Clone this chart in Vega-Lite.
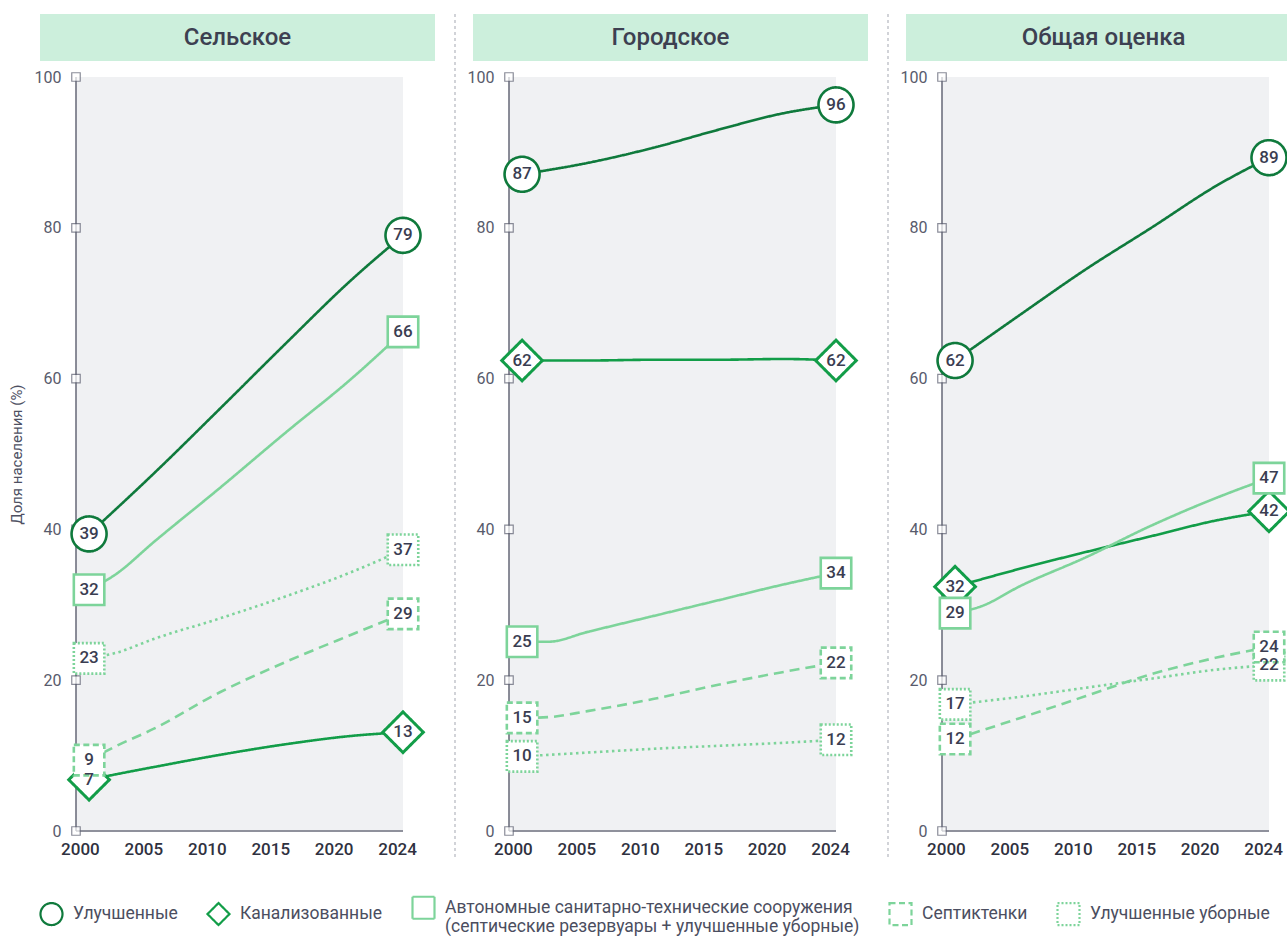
{
  "$schema": "https://vega.github.io/schema/vega-lite/v6.json",
  "padding": {"left": 9, "top": 13, "right": 0, "bottom": 0},
  "background": "white",
  "datasets": {
    "d": [
      {"panel": "Сельское", "type": "Улучшенные", "year": 2000, "value": 39.4},
      {"panel": "Сельское", "type": "Улучшенные", "year": 2005, "value": 47.5},
      {"panel": "Сельское", "type": "Улучшенные", "year": 2010, "value": 56.0},
      {"panel": "Сельское", "type": "Улучшенные", "year": 2015, "value": 64.6},
      {"panel": "Сельское", "type": "Улучшенные", "year": 2020, "value": 73.0},
      {"panel": "Сельское", "type": "Улучшенные", "year": 2024, "value": 79.0},
      {"panel": "Сельское", "type": "Канализованные", "year": 2000, "value": 6.8},
      {"panel": "Сельское", "type": "Канализованные", "year": 2002, "value": 7.5},
      {"panel": "Сельское", "type": "Канализованные", "year": 2005, "value": 8.5},
      {"panel": "Сельское", "type": "Канализованные", "year": 2010, "value": 10.1},
      {"panel": "Сельское", "type": "Канализованные", "year": 2015, "value": 11.5},
      {"panel": "Сельское", "type": "Канализованные", "year": 2020, "value": 12.6},
      {"panel": "Сельское", "type": "Канализованные", "year": 2024, "value": 13.1},
      {"panel": "Сельское", "type": "Автономные санитарно-технические сооружения (септические резервуары + улучшенные уборные)", "year": 2000, "value": 32.0},
      {"panel": "Сельское", "type": "Автономные санитарно-технические сооружения (септические резервуары + улучшенные уборные)", "year": 2002, "value": 34.0},
      {"panel": "Сельское", "type": "Автономные санитарно-технические сооружения (септические резервуары + улучшенные уборные)", "year": 2005, "value": 38.4},
      {"panel": "Сельское", "type": "Автономные санитарно-технические сооружения (септические резервуары + улучшенные уборные)", "year": 2010, "value": 45.5},
      {"panel": "Сельское", "type": "Автономные санитарно-технические сооружения (септические резервуары + улучшенные уборные)", "year": 2015, "value": 52.8},
      {"panel": "Сельское", "type": "Автономные санитарно-технические сооружения (септические резервуары + улучшенные уборные)", "year": 2020, "value": 59.9},
      {"panel": "Сельское", "type": "Автономные санитарно-технические сооружения (септические резервуары + улучшенные уборные)", "year": 2024, "value": 66.2},
      {"panel": "Сельское", "type": "Улучшенные уборные", "year": 2000, "value": 22.9},
      {"panel": "Сельское", "type": "Улучшенные уборные", "year": 2002, "value": 23.6},
      {"panel": "Сельское", "type": "Улучшенные уборные", "year": 2005, "value": 25.5},
      {"panel": "Сельское", "type": "Улучшенные уборные", "year": 2010, "value": 28.2},
      {"panel": "Сельское", "type": "Улучшенные уборные", "year": 2015, "value": 31.1},
      {"panel": "Сельское", "type": "Улучшенные уборные", "year": 2020, "value": 34.3},
      {"panel": "Сельское", "type": "Улучшенные уборные", "year": 2024, "value": 37.3},
      {"panel": "Сельское", "type": "Септиктенки", "year": 2000, "value": 9.4},
      {"panel": "Сельское", "type": "Септиктенки", "year": 2002, "value": 11.2},
      {"panel": "Сельское", "type": "Септиктенки", "year": 2005, "value": 13.6},
      {"panel": "Сельское", "type": "Септиктенки", "year": 2010, "value": 18.4},
      {"panel": "Сельское", "type": "Септиктенки", "year": 2015, "value": 22.4},
      {"panel": "Сельское", "type": "Септиктенки", "year": 2020, "value": 26.0},
      {"panel": "Сельское", "type": "Септиктенки", "year": 2024, "value": 28.8},

      {"panel": "Городское", "type": "Улучшенные", "year": 2000, "value": 87.1},
      {"panel": "Городское", "type": "Улучшенные", "year": 2005, "value": 88.6},
      {"panel": "Городское", "type": "Улучшенные", "year": 2010, "value": 90.6},
      {"panel": "Городское", "type": "Улучшенные", "year": 2015, "value": 93.0},
      {"panel": "Городское", "type": "Улучшенные", "year": 2020, "value": 95.2},
      {"panel": "Городское", "type": "Улучшенные", "year": 2024, "value": 96.3},
      {"panel": "Городское", "type": "Канализованные", "year": 2000, "value": 62.4},
      {"panel": "Городское", "type": "Канализованные", "year": 2005, "value": 62.4},
      {"panel": "Городское", "type": "Канализованные", "year": 2010, "value": 62.5},
      {"panel": "Городское", "type": "Канализованные", "year": 2015, "value": 62.5},
      {"panel": "Городское", "type": "Канализованные", "year": 2020, "value": 62.6},
      {"panel": "Городское", "type": "Канализованные", "year": 2024, "value": 62.4},
      {"panel": "Городское", "type": "Автономные санитарно-технические сооружения (септические резервуары + улучшенные уборные)", "year": 2000, "value": 25.1},
      {"panel": "Городское", "type": "Автономные санитарно-технические сооружения (септические резервуары + улучшенные уборные)", "year": 2002, "value": 25.1},
      {"panel": "Городское", "type": "Автономные санитарно-технические сооружения (септические резервуары + улучшенные уборные)", "year": 2005, "value": 26.4},
      {"panel": "Городское", "type": "Автономные санитарно-технические сооружения (септические резервуары + улучшенные уборные)", "year": 2010, "value": 28.5},
      {"panel": "Городское", "type": "Автономные санитарно-технические сооружения (септические резервуары + улучшенные уборные)", "year": 2015, "value": 30.6},
      {"panel": "Городское", "type": "Автономные санитарно-технические сооружения (септические резервуары + улучшенные уборные)", "year": 2020, "value": 32.7},
      {"panel": "Городское", "type": "Автономные санитарно-технические сооружения (септические резервуары + улучшенные уборные)", "year": 2024, "value": 34.2},
      {"panel": "Городское", "type": "Улучшенные уборные", "year": 2000, "value": 9.9},
      {"panel": "Городское", "type": "Улучшенные уборные", "year": 2005, "value": 10.4},
      {"panel": "Городское", "type": "Улучшенные уборные", "year": 2010, "value": 10.9},
      {"panel": "Городское", "type": "Улучшенные уборные", "year": 2015, "value": 11.3},
      {"panel": "Городское", "type": "Улучшенные уборные", "year": 2020, "value": 11.7},
      {"panel": "Городское", "type": "Улучшенные уборные", "year": 2024, "value": 12.1},
      {"panel": "Городское", "type": "Септиктенки", "year": 2000, "value": 15.0},
      {"panel": "Городское", "type": "Септиктенки", "year": 2002, "value": 15.1},
      {"panel": "Городское", "type": "Септиктенки", "year": 2005, "value": 15.9},
      {"panel": "Городское", "type": "Септиктенки", "year": 2010, "value": 17.5},
      {"panel": "Городское", "type": "Септиктенки", "year": 2015, "value": 19.4},
      {"panel": "Городское", "type": "Септиктенки", "year": 2020, "value": 21.1},
      {"panel": "Городское", "type": "Септиктенки", "year": 2024, "value": 22.3},

      {"panel": "Общая оценка", "type": "Улучшенные", "year": 2000, "value": 62.4},
      {"panel": "Общая оценка", "type": "Улучшенные", "year": 2005, "value": 68.5},
      {"panel": "Общая оценка", "type": "Улучшенные", "year": 2010, "value": 74.5},
      {"panel": "Общая оценка", "type": "Улучшенные", "year": 2015, "value": 80.0},
      {"panel": "Общая оценка", "type": "Улучшенные", "year": 2020, "value": 85.6},
      {"panel": "Общая оценка", "type": "Улучшенные", "year": 2024, "value": 89.3},
      {"panel": "Общая оценка", "type": "Канализованные", "year": 2000, "value": 32.4},
      {"panel": "Общая оценка", "type": "Канализованные", "year": 2005, "value": 34.8},
      {"panel": "Общая оценка", "type": "Канализованные", "year": 2010, "value": 37.0},
      {"panel": "Общая оценка", "type": "Канализованные", "year": 2015, "value": 39.1},
      {"panel": "Общая оценка", "type": "Канализованные", "year": 2020, "value": 41.2},
      {"panel": "Общая оценка", "type": "Канализованные", "year": 2024, "value": 42.4},
      {"panel": "Общая оценка", "type": "Автономные санитарно-технические сооружения (септические резервуары + улучшенные уборные)", "year": 2000, "value": 28.9},
      {"panel": "Общая оценка", "type": "Автономные санитарно-технические сооружения (септические резервуары + улучшенные уборные)", "year": 2002, "value": 29.8},
      {"panel": "Общая оценка", "type": "Автономные санитарно-технические сооружения (септические резервуары + улучшенные уборные)", "year": 2005, "value": 32.5},
      {"panel": "Общая оценка", "type": "Автономные санитарно-технические сооружения (септические резервуары + улучшенные уборные)", "year": 2010, "value": 36.3},
      {"panel": "Общая оценка", "type": "Автономные санитарно-технические сооружения (септические резервуары + улучшенные уборные)", "year": 2015, "value": 40.5},
      {"panel": "Общая оценка", "type": "Автономные санитарно-технические сооружения (септические резервуары + улучшенные уборные)", "year": 2020, "value": 44.2},
      {"panel": "Общая оценка", "type": "Автономные санитарно-технические сооружения (септические резервуары + улучшенные уборные)", "year": 2024, "value": 46.8},
      {"panel": "Общая оценка", "type": "Улучшенные уборные", "year": 2000, "value": 16.8},
      {"panel": "Общая оценка", "type": "Улучшенные уборные", "year": 2005, "value": 17.8},
      {"panel": "Общая оценка", "type": "Улучшенные уборные", "year": 2010, "value": 19.0},
      {"panel": "Общая оценка", "type": "Улучшенные уборные", "year": 2015, "value": 20.2},
      {"panel": "Общая оценка", "type": "Улучшенные уборные", "year": 2020, "value": 21.4},
      {"panel": "Общая оценка", "type": "Улучшенные уборные", "year": 2024, "value": 22.0},
      {"panel": "Общая оценка", "type": "Септиктенки", "year": 2000, "value": 12.2},
      {"panel": "Общая оценка", "type": "Септиктенки", "year": 2005, "value": 15.0},
      {"panel": "Общая оценка", "type": "Септиктенки", "year": 2010, "value": 17.9},
      {"panel": "Общая оценка", "type": "Септиктенки", "year": 2015, "value": 20.8},
      {"panel": "Общая оценка", "type": "Септиктенки", "year": 2020, "value": 23.0},
      {"panel": "Общая оценка", "type": "Септиктенки", "year": 2024, "value": 24.4}
    ]
  },
  "spacing": 11,
  "hconcat": [
    {
      "vconcat": [
        {
          "width": 395, "height": 47,
          "view": {"fill": "#ccefdc", "stroke": null},
          "data": {"values": [{"t": "Сельское"}]},
          "mark": {"type": "text", "fontSize": 24, "fontWeight": 500, "color": "#3d4051"},
          "encoding": {"text": {"field": "t"}}
        },
        {
          "width": 363, "height": 754,
          "layer": [
            {"data": {"values": [{}]}, "mark": {"type": "rect", "color": "#f0f1f3"},
             "encoding": {
               "x": {"datum": 1999, "type": "quantitative", "scale": {"domain": [1996.248, 2024], "nice": false, "zero": false}},
               "x2": {"datum": 2024},
               "y": {"datum": 0, "type": "quantitative", "scale": {"domain": [0, 100], "nice": false, "zero": false}},
               "y2": {"datum": 100}}},
            {"data": {"values": [{}]}, "mark": {"type": "rule", "color": "#8f919c", "strokeWidth": 2},
             "encoding": {
               "x": {"datum": 1999, "type": "quantitative", "scale": {"domain": [1996.248, 2024], "nice": false, "zero": false}},
               "x2": {"datum": 2024},
               "y": {"datum": 0, "type": "quantitative", "scale": {"domain": [0, 100], "nice": false, "zero": false}}}},
            {"data": {"values": [{}]}, "mark": {"type": "rule", "color": "#4f5263", "strokeWidth": 1.3},
             "encoding": {
               "x": {"datum": 1999, "type": "quantitative", "scale": {"domain": [1996.248, 2024], "nice": false, "zero": false}},
               "y": {"datum": 0, "type": "quantitative", "scale": {"domain": [0, 100], "nice": false, "zero": false}},
               "y2": {"datum": 100}}},
            {"data": {"values": [{"tick": 0}, {"tick": 20}, {"tick": 40}, {"tick": 60}, {"tick": 80}, {"tick": 100}]},
             "mark": {"type": "square", "size": 72, "filled": true, "fill": "white", "stroke": "#5b5e6f", "strokeWidth": 1.2},
             "encoding": {
               "x": {"datum": 1999, "type": "quantitative", "scale": {"domain": [1996.248, 2024], "nice": false, "zero": false}},
               "y": {"field": "tick", "type": "quantitative", "scale": {"domain": [0, 100], "nice": false, "zero": false}}}},
            {"data": {"name": "d"}, "transform": [{"filter": "datum.panel === 'Сельское'"}],
             "mark": {"type": "line", "interpolate": "monotone", "strokeWidth": 2.6},
             "encoding": {
               "x": {"field": "year", "type": "quantitative", "scale": {"domain": [1996.248, 2024], "nice": false, "zero": false},
                     "axis": {"values": [1999.3, 2004.15, 2009.0, 2013.85, 2018.7, 2023.55], "labelExpr": "datum.value < 2002 ? '2000' : datum.value < 2007 ? '2005' : datum.value < 2011 ? '2010' : datum.value < 2016 ? '2015' : datum.value < 2021 ? '2020' : '2024'", "title": null}},
               "y": {"field": "value", "type": "quantitative", "scale": {"domain": [0, 100], "nice": false, "zero": false},
                     "axis": {"values": [0, 20, 40, 60, 80, 100], "offset": -36, "title": "Доля населения (%)"}},
               "detail": {"field": "type"},
               "stroke": {"field": "type", "type": "nominal",
                          "scale": {"domain": ["Улучшенные", "Канализованные", "Автономные санитарно-технические сооружения (септические резервуары + улучшенные уборные)", "Септиктенки", "Улучшенные уборные"], "range": ["#0f7a3c", "#129d48", "#7dd49a", "#7dd49a", "#7dd49a"]}},
               "strokeDash": {"condition": [{"test": "datum.type === 'Септиктенки'", "value": [10, 6]}, {"test": "datum.type === 'Улучшенные уборные'", "value": [2.5, 3.5]}], "value": [1, 0]}}},
            {"data": {"name": "d"}, "transform": [{"filter": "datum.panel === 'Сельское'"}, {"filter": "datum.year === 2000 || datum.year === 2024"}],
             "mark": {"type": "point", "filled": false, "fill": "white", "fillOpacity": 1, "opacity": 1},
             "encoding": {
               "x": {"field": "year", "type": "quantitative", "scale": {"domain": [1996.248, 2024], "nice": false, "zero": false}},
               "y": {"field": "value", "type": "quantitative", "scale": {"domain": [0, 100], "nice": false, "zero": false}},
               "stroke": {"field": "type", "type": "nominal",
                          "scale": {"domain": ["Улучшенные", "Канализованные", "Автономные санитарно-технические сооружения (септические резервуары + улучшенные уборные)", "Септиктенки", "Улучшенные уборные"], "range": ["#0f7a3c", "#129d48", "#7dd49a", "#7dd49a", "#7dd49a"]},
                          "legend": {"title": null, "orient": "none", "legendX": -1, "legendY": 881, "direction": "horizontal", "columns": 5,
                                     "symbolSize": 484, "symbolStrokeWidth": 2.2, "symbolFillColor": "white", "labelFontSize": 17.5, "labelColor": "#4b4e60", "labelLimit": 0, "labelOffset": 9, "columnPadding": 25,
                                     "labelExpr": "indexof(datum.label, 'Автономные') === 0 ? ['Автономные санитарно-технические сооружения', '(септические резервуары + улучшенные уборные)'] : datum.label"}},
               "shape": {"field": "type", "type": "nominal",
                         "scale": {"domain": ["Улучшенные", "Канализованные", "Автономные санитарно-технические сооружения (септические резервуары + улучшенные уборные)", "Септиктенки", "Улучшенные уборные"], "range": ["circle", "diamond", "square", "square", "square"]},
                         "legend": {"title": null, "orient": "none", "legendX": -1, "legendY": 881, "direction": "horizontal", "columns": 5,
                                     "symbolSize": 484, "symbolStrokeWidth": 2.2, "symbolFillColor": "white", "labelFontSize": 17.5, "labelColor": "#4b4e60", "labelLimit": 0, "labelOffset": 9, "columnPadding": 25,
                                     "labelExpr": "indexof(datum.label, 'Автономные') === 0 ? ['Автономные санитарно-технические сооружения', '(септические резервуары + улучшенные уборные)'] : datum.label"}},
               "strokeDash": {"field": "type", "type": "nominal",
                              "scale": {"domain": ["Улучшенные", "Канализованные", "Автономные санитарно-технические сооружения (септические резервуары + улучшенные уборные)", "Септиктенки", "Улучшенные уборные"], "range": [[1, 0], [1, 0], [1, 0], [6, 3.5], [2, 2]]},
                              "legend": {"title": null, "orient": "none", "legendX": -1, "legendY": 881, "direction": "horizontal", "columns": 5,
                                     "symbolSize": 484, "symbolStrokeWidth": 2.2, "symbolFillColor": "white", "labelFontSize": 17.5, "labelColor": "#4b4e60", "labelLimit": 0, "labelOffset": 9, "columnPadding": 25,
                                     "labelExpr": "indexof(datum.label, 'Автономные') === 0 ? ['Автономные санитарно-технические сооружения', '(септические резервуары + улучшенные уборные)'] : datum.label"}},
               "size": {"condition": [{"test": "datum.type === 'Улучшенные'", "value": 1225}, {"test": "datum.type === 'Канализованные'", "value": 1650}], "value": 930},
               "strokeWidth": {"condition": [{"test": "datum.type === 'Канализованные'", "value": 3}], "value": 2.6}}},
            {"data": {"name": "d"}, "transform": [{"filter": "datum.panel === 'Сельское'"}, {"filter": "datum.year === 2000 || datum.year === 2024"}],
             "mark": {"type": "text", "fontSize": 17, "fontWeight": 500, "color": "#3a3d51", "baseline": "middle", "align": "center"},
             "encoding": {
               "x": {"field": "year", "type": "quantitative", "scale": {"domain": [1996.248, 2024], "nice": false, "zero": false}},
               "y": {"field": "value", "type": "quantitative", "scale": {"domain": [0, 100], "nice": false, "zero": false}},
               "text": {"field": "value", "type": "quantitative", "format": "d"}}}
          ]
        }
      ],
      "spacing": 16, "bounds": "flush"
    },
    {
      "width": 9, "height": 845,
      "data": {"values": [{}]},
      "mark": {"type": "rule", "color": "#b4b6be", "strokeDash": [3, 3], "strokeWidth": 1.2},
      "encoding": {"x": {"datum": 1, "type": "quantitative", "scale": {"domain": [0, 1]}, "axis": null}}
    },
    {
      "vconcat": [
        {
          "width": 395, "height": 47,
          "view": {"fill": "#ccefdc", "stroke": null},
          "data": {"values": [{"t": "Городское"}]},
          "mark": {"type": "text", "fontSize": 24, "fontWeight": 500, "color": "#3d4051"},
          "encoding": {"text": {"field": "t"}}
        },
        {
          "width": 363, "height": 754,
          "layer": [
            {"data": {"values": [{}]}, "mark": {"type": "rect", "color": "#f0f1f3"},
             "encoding": {
               "x": {"datum": 1999, "type": "quantitative", "scale": {"domain": [1996.248, 2024], "nice": false, "zero": false}},
               "x2": {"datum": 2024},
               "y": {"datum": 0, "type": "quantitative", "scale": {"domain": [0, 100], "nice": false, "zero": false}},
               "y2": {"datum": 100}}},
            {"data": {"values": [{}]}, "mark": {"type": "rule", "color": "#8f919c", "strokeWidth": 2},
             "encoding": {
               "x": {"datum": 1999, "type": "quantitative", "scale": {"domain": [1996.248, 2024], "nice": false, "zero": false}},
               "x2": {"datum": 2024},
               "y": {"datum": 0, "type": "quantitative", "scale": {"domain": [0, 100], "nice": false, "zero": false}}}},
            {"data": {"values": [{}]}, "mark": {"type": "rule", "color": "#4f5263", "strokeWidth": 1.3},
             "encoding": {
               "x": {"datum": 1999, "type": "quantitative", "scale": {"domain": [1996.248, 2024], "nice": false, "zero": false}},
               "y": {"datum": 0, "type": "quantitative", "scale": {"domain": [0, 100], "nice": false, "zero": false}},
               "y2": {"datum": 100}}},
            {"data": {"values": [{"tick": 0}, {"tick": 20}, {"tick": 40}, {"tick": 60}, {"tick": 80}, {"tick": 100}]},
             "mark": {"type": "square", "size": 72, "filled": true, "fill": "white", "stroke": "#5b5e6f", "strokeWidth": 1.2},
             "encoding": {
               "x": {"datum": 1999, "type": "quantitative", "scale": {"domain": [1996.248, 2024], "nice": false, "zero": false}},
               "y": {"field": "tick", "type": "quantitative", "scale": {"domain": [0, 100], "nice": false, "zero": false}}}},
            {"data": {"name": "d"}, "transform": [{"filter": "datum.panel === 'Городское'"}],
             "mark": {"type": "line", "interpolate": "monotone", "strokeWidth": 2.6},
             "encoding": {
               "x": {"field": "year", "type": "quantitative", "scale": {"domain": [1996.248, 2024], "nice": false, "zero": false},
                     "axis": {"values": [1999.3, 2004.15, 2009.0, 2013.85, 2018.7, 2023.55], "labelExpr": "datum.value < 2002 ? '2000' : datum.value < 2007 ? '2005' : datum.value < 2011 ? '2010' : datum.value < 2016 ? '2015' : datum.value < 2021 ? '2020' : '2024'", "title": null}},
               "y": {"field": "value", "type": "quantitative", "scale": {"domain": [0, 100], "nice": false, "zero": false},
                     "axis": {"values": [0, 20, 40, 60, 80, 100], "offset": -36, "title": null}},
               "detail": {"field": "type"},
               "stroke": {"field": "type", "type": "nominal",
                          "scale": {"domain": ["Улучшенные", "Канализованные", "Автономные санитарно-технические сооружения (септические резервуары + улучшенные уборные)", "Септиктенки", "Улучшенные уборные"], "range": ["#0f7a3c", "#129d48", "#7dd49a", "#7dd49a", "#7dd49a"]}},
               "strokeDash": {"condition": [{"test": "datum.type === 'Септиктенки'", "value": [10, 6]}, {"test": "datum.type === 'Улучшенные уборные'", "value": [2.5, 3.5]}], "value": [1, 0]}}},
            {"data": {"name": "d"}, "transform": [{"filter": "datum.panel === 'Городское'"}, {"filter": "datum.year === 2000 || datum.year === 2024"}],
             "mark": {"type": "point", "filled": false, "fill": "white", "fillOpacity": 1, "opacity": 1},
             "encoding": {
               "x": {"field": "year", "type": "quantitative", "scale": {"domain": [1996.248, 2024], "nice": false, "zero": false}},
               "y": {"field": "value", "type": "quantitative", "scale": {"domain": [0, 100], "nice": false, "zero": false}},
               "stroke": {"field": "type", "type": "nominal",
                          "scale": {"domain": ["Улучшенные", "Канализованные", "Автономные санитарно-технические сооружения (септические резервуары + улучшенные уборные)", "Септиктенки", "Улучшенные уборные"], "range": ["#0f7a3c", "#129d48", "#7dd49a", "#7dd49a", "#7dd49a"]}},
               "shape": {"field": "type", "type": "nominal",
                         "scale": {"domain": ["Улучшенные", "Канализованные", "Автономные санитарно-технические сооружения (септические резервуары + улучшенные уборные)", "Септиктенки", "Улучшенные уборные"], "range": ["circle", "diamond", "square", "square", "square"]}},
               "strokeDash": {"field": "type", "type": "nominal",
                              "scale": {"domain": ["Улучшенные", "Канализованные", "Автономные санитарно-технические сооружения (септические резервуары + улучшенные уборные)", "Септиктенки", "Улучшенные уборные"], "range": [[1, 0], [1, 0], [1, 0], [6, 3.5], [2, 2]]}},
               "size": {"condition": [{"test": "datum.type === 'Улучшенные'", "value": 1225}, {"test": "datum.type === 'Канализованные'", "value": 1650}], "value": 930},
               "strokeWidth": {"condition": [{"test": "datum.type === 'Канализованные'", "value": 3}], "value": 2.6}}},
            {"data": {"name": "d"}, "transform": [{"filter": "datum.panel === 'Городское'"}, {"filter": "datum.year === 2000 || datum.year === 2024"}],
             "mark": {"type": "text", "fontSize": 17, "fontWeight": 500, "color": "#3a3d51", "baseline": "middle", "align": "center"},
             "encoding": {
               "x": {"field": "year", "type": "quantitative", "scale": {"domain": [1996.248, 2024], "nice": false, "zero": false}},
               "y": {"field": "value", "type": "quantitative", "scale": {"domain": [0, 100], "nice": false, "zero": false}},
               "text": {"field": "value", "type": "quantitative", "format": "d"}}}
          ]
        }
      ],
      "spacing": 16, "bounds": "flush"
    },
    {
      "width": 9, "height": 845,
      "data": {"values": [{}]},
      "mark": {"type": "rule", "color": "#b4b6be", "strokeDash": [3, 3], "strokeWidth": 1.2},
      "encoding": {"x": {"datum": 1, "type": "quantitative", "scale": {"domain": [0, 1]}, "axis": null}}
    },
    {
      "vconcat": [
        {
          "width": 381, "height": 47,
          "view": {"fill": "#ccefdc", "stroke": null},
          "data": {"values": [{"t": "Общая оценка"}]},
          "mark": {"type": "text", "fontSize": 24, "fontWeight": 500, "color": "#3d4051", "dx": 7},
          "encoding": {"text": {"field": "t"}}
        },
        {
          "width": 363, "height": 754,
          "layer": [
            {"data": {"values": [{}]}, "mark": {"type": "rect", "color": "#f0f1f3"},
             "encoding": {
               "x": {"datum": 1999, "type": "quantitative", "scale": {"domain": [1996.248, 2024], "nice": false, "zero": false}},
               "x2": {"datum": 2024},
               "y": {"datum": 0, "type": "quantitative", "scale": {"domain": [0, 100], "nice": false, "zero": false}},
               "y2": {"datum": 100}}},
            {"data": {"values": [{}]}, "mark": {"type": "rule", "color": "#8f919c", "strokeWidth": 2},
             "encoding": {
               "x": {"datum": 1999, "type": "quantitative", "scale": {"domain": [1996.248, 2024], "nice": false, "zero": false}},
               "x2": {"datum": 2024},
               "y": {"datum": 0, "type": "quantitative", "scale": {"domain": [0, 100], "nice": false, "zero": false}}}},
            {"data": {"values": [{}]}, "mark": {"type": "rule", "color": "#4f5263", "strokeWidth": 1.3},
             "encoding": {
               "x": {"datum": 1999, "type": "quantitative", "scale": {"domain": [1996.248, 2024], "nice": false, "zero": false}},
               "y": {"datum": 0, "type": "quantitative", "scale": {"domain": [0, 100], "nice": false, "zero": false}},
               "y2": {"datum": 100}}},
            {"data": {"values": [{"tick": 0}, {"tick": 20}, {"tick": 40}, {"tick": 60}, {"tick": 80}, {"tick": 100}]},
             "mark": {"type": "square", "size": 72, "filled": true, "fill": "white", "stroke": "#5b5e6f", "strokeWidth": 1.2},
             "encoding": {
               "x": {"datum": 1999, "type": "quantitative", "scale": {"domain": [1996.248, 2024], "nice": false, "zero": false}},
               "y": {"field": "tick", "type": "quantitative", "scale": {"domain": [0, 100], "nice": false, "zero": false}}}},
            {"data": {"name": "d"}, "transform": [{"filter": "datum.panel === 'Общая оценка'"}],
             "mark": {"type": "line", "interpolate": "monotone", "strokeWidth": 2.6},
             "encoding": {
               "x": {"field": "year", "type": "quantitative", "scale": {"domain": [1996.248, 2024], "nice": false, "zero": false},
                     "axis": {"values": [1999.3, 2004.15, 2009.0, 2013.85, 2018.7, 2023.55], "labelExpr": "datum.value < 2002 ? '2000' : datum.value < 2007 ? '2005' : datum.value < 2011 ? '2010' : datum.value < 2016 ? '2015' : datum.value < 2021 ? '2020' : '2024'", "title": null}},
               "y": {"field": "value", "type": "quantitative", "scale": {"domain": [0, 100], "nice": false, "zero": false},
                     "axis": {"values": [0, 20, 40, 60, 80, 100], "offset": -36, "title": null}},
               "detail": {"field": "type"},
               "stroke": {"field": "type", "type": "nominal",
                          "scale": {"domain": ["Улучшенные", "Канализованные", "Автономные санитарно-технические сооружения (септические резервуары + улучшенные уборные)", "Септиктенки", "Улучшенные уборные"], "range": ["#0f7a3c", "#129d48", "#7dd49a", "#7dd49a", "#7dd49a"]}},
               "strokeDash": {"condition": [{"test": "datum.type === 'Септиктенки'", "value": [10, 6]}, {"test": "datum.type === 'Улучшенные уборные'", "value": [2.5, 3.5]}], "value": [1, 0]}}},
            {"data": {"name": "d"}, "transform": [{"filter": "datum.panel === 'Общая оценка'"}, {"filter": "datum.year === 2000 || datum.year === 2024"}],
             "mark": {"type": "point", "filled": false, "fill": "white", "fillOpacity": 1, "opacity": 1},
             "encoding": {
               "x": {"field": "year", "type": "quantitative", "scale": {"domain": [1996.248, 2024], "nice": false, "zero": false}},
               "y": {"field": "value", "type": "quantitative", "scale": {"domain": [0, 100], "nice": false, "zero": false}},
               "stroke": {"field": "type", "type": "nominal",
                          "scale": {"domain": ["Улучшенные", "Канализованные", "Автономные санитарно-технические сооружения (септические резервуары + улучшенные уборные)", "Септиктенки", "Улучшенные уборные"], "range": ["#0f7a3c", "#129d48", "#7dd49a", "#7dd49a", "#7dd49a"]}},
               "shape": {"field": "type", "type": "nominal",
                         "scale": {"domain": ["Улучшенные", "Канализованные", "Автономные санитарно-технические сооружения (септические резервуары + улучшенные уборные)", "Септиктенки", "Улучшенные уборные"], "range": ["circle", "diamond", "square", "square", "square"]}},
               "strokeDash": {"field": "type", "type": "nominal",
                              "scale": {"domain": ["Улучшенные", "Канализованные", "Автономные санитарно-технические сооружения (септические резервуары + улучшенные уборные)", "Септиктенки", "Улучшенные уборные"], "range": [[1, 0], [1, 0], [1, 0], [6, 3.5], [2, 2]]}},
               "size": {"condition": [{"test": "datum.type === 'Улучшенные'", "value": 1225}, {"test": "datum.type === 'Канализованные'", "value": 1650}], "value": 930},
               "strokeWidth": {"condition": [{"test": "datum.type === 'Канализованные'", "value": 3}], "value": 2.6}}},
            {"data": {"name": "d"}, "transform": [{"filter": "datum.panel === 'Общая оценка'"}, {"filter": "datum.year === 2000 || datum.year === 2024"}],
             "mark": {"type": "text", "fontSize": 17, "fontWeight": 500, "color": "#3a3d51", "baseline": "middle", "align": "center"},
             "encoding": {
               "x": {"field": "year", "type": "quantitative", "scale": {"domain": [1996.248, 2024], "nice": false, "zero": false}},
               "y": {"field": "value", "type": "quantitative", "scale": {"domain": [0, 100], "nice": false, "zero": false}},
               "text": {"field": "value", "type": "quantitative", "format": "d"}}}
          ]
        }
      ],
      "spacing": 16, "bounds": "flush"
    }
  ],
  "config": {
    "font": "Roboto",
    "view": {"stroke": null},
    "axis": {"domain": false, "ticks": false, "grid": false, "labelFont": "Roboto", "titleFont": "Roboto"},
    "axisX": {"labelFontSize": 17, "labelFontWeight": 500, "labelColor": "#2f3140", "labelPadding": 10, "labelFlush": false, "labelOverlap": false},
    "axisY": {"labelFontSize": 16, "labelColor": "#585b6c", "labelPadding": 15, "titleFontSize": 15, "titleFontWeight": "normal", "titleColor": "#4d5062", "titlePadding": 10},
    "legend": {"labelFont": "Roboto"}
  }
}
